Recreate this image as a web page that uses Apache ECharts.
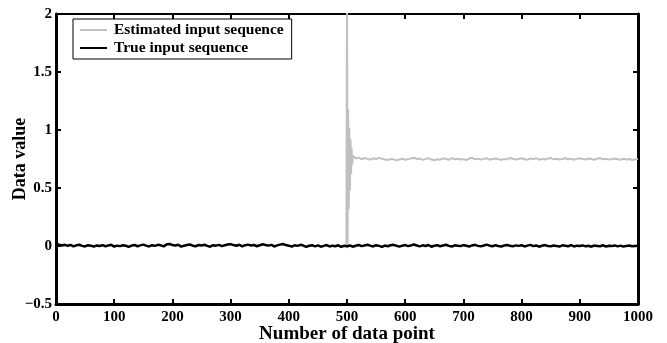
<!DOCTYPE html>
<html>
<head>
<meta charset="utf-8">
<script src="https://cdn.jsdelivr.net/npm/echarts@6/dist/echarts.min.js"></script>
<style>
  html, body { margin: 0; padding: 0; background: #fff; }
  #chart { width: 667px; height: 343px; }
</style>
</head>
<body>
<div id="chart"></div>
<script>
// true input, sampled every 5 points from 0 to 1000
var trueStep = 5;
var trueValues = [
  0.008, 0.012, 0.004, 0.010, 0.002, 0.009, -0.003, 0.006, 0.011, 0.001,
  -0.004, 0.007, 0.003, -0.006, 0.005, 0.000, 0.008, -0.002, 0.004, 0.010,
  -0.005, 0.003, -0.001, 0.006, 0.002, -0.007, 0.004, 0.009, -0.002, 0.005,
  0.012, 0.003, -0.004, 0.007, 0.001, 0.010, 0.006, -0.003, 0.014, 0.018,
  0.009, 0.004, 0.011, -0.005, 0.002, 0.008, 0.013, 0.003, -0.002, 0.009,
  0.005, 0.011, 0.001, -0.006, 0.007, 0.003, 0.010, -0.001, 0.006, 0.013,
  0.016, 0.008, 0.002, 0.011, -0.003, 0.007, 0.012, 0.004, 0.009, -0.002,
  0.006, 0.015, 0.009, 0.003, 0.010, -0.004, 0.005, 0.012, 0.017, 0.008,
  0.003, -0.005, 0.006, 0.001, 0.010, 0.004, -0.008, 0.002, 0.007, -0.003,
  0.005, -0.006, 0.001, 0.008, -0.004, 0.003, -0.002, 0.006, -0.007, 0.002,
  -0.003, 0.004, -0.006, 0.002, 0.009, -0.001, 0.005, 0.011, 0.003, -0.004,
  0.007, 0.001, -0.008, 0.004, -0.002, 0.006, 0.010, 0.002, -0.005, 0.003,
  0.008, -0.001, 0.005, 0.013, 0.004, -0.003, 0.006, 0.000, 0.009, -0.006,
  0.002, 0.007, -0.002, 0.004, 0.011, 0.001, -0.005, 0.006, 0.003, -0.001,
  0.008, 0.002, -0.004, 0.005, 0.010, 0.001, -0.003, 0.004, 0.012, 0.003,
  -0.002, 0.006, 0.000, -0.005, 0.004, 0.009, 0.002, -0.003, 0.005, 0.001,
  0.007, -0.004, 0.003, 0.010, -0.001, 0.005, -0.006, 0.002, 0.008, 0.000,
  -0.003, 0.004, 0.001, -0.005, 0.006, 0.002, -0.002, 0.007, -0.004, 0.003,
  0.000, 0.005, -0.003, 0.002, -0.006, 0.004, 0.001, -0.002, 0.006, -0.004,
  0.002, -0.001, 0.005, -0.003, 0.003, -0.005, 0.001, 0.004, -0.002, 0.000,
  0.002
];

// estimated input: transient around point 500
var estHeadX = [499, 500, 501, 502, 503, 504, 505, 506, 507, 508, 509, 510];
var estHeadY = [0.0, 2.3, -0.02, 1.18, 0.32, 1.02, 0.48, 0.92, 0.62, 0.84, 0.70, 0.78];

// estimated input after settling, every 5 points from 515 to 1000
var estTailStart = 515;
var estTailStep = 5;
var estTailY = [
  0.755, 0.762, 0.748, 0.758, 0.751, 0.744, 0.756, 0.749, 0.760, 0.752,
  0.745, 0.741, 0.750, 0.747, 0.738, 0.746, 0.752, 0.743, 0.749, 0.755,
  0.761, 0.748, 0.754, 0.742, 0.751, 0.757, 0.746, 0.739, 0.748, 0.744,
  0.756, 0.750, 0.743, 0.758, 0.747, 0.752, 0.745, 0.749, 0.741, 0.754,
  0.760, 0.748, 0.753, 0.746, 0.751, 0.757, 0.744, 0.750, 0.755, 0.749,
  0.742, 0.751, 0.746, 0.758, 0.752, 0.745, 0.750, 0.756, 0.748, 0.743,
  0.754, 0.749, 0.757, 0.744, 0.751, 0.746, 0.753, 0.759, 0.747, 0.752,
  0.745, 0.750, 0.756, 0.748, 0.753, 0.744, 0.751, 0.757, 0.749, 0.746,
  0.754, 0.750, 0.743, 0.752, 0.758, 0.747, 0.751, 0.745, 0.749, 0.755,
  0.748, 0.744, 0.752, 0.746, 0.750, 0.741, 0.747, 0.749
];

var seriesNames = ['Estimated input sequence', 'True input sequence'];

var trueData = trueValues.map(function (v, i) { return [i * trueStep, v]; });
var estData = estHeadX.map(function (x, i) { return [x, estHeadY[i]]; })
  .concat(estTailY.map(function (v, i) { return [estTailStart + i * estTailStep, v]; }));

var font = 'Liberation Serif';
var labelStyle = { color: '#000', fontFamily: font, fontWeight: 'bold', fontSize: 15 };
function plain(v) { return String(v).replace('-', '\u2212'); }

var chart = echarts.init(document.getElementById('chart'));
chart.setOption({
  animation: false,
  backgroundColor: '#fff',
  grid: { left: 56, right: 29, top: 14, bottom: 39, outerBoundsMode: 'none', containLabel: false },
  legend: {
    data: seriesNames.map(function (n) { return { name: n, icon: 'rect' }; }),
    orient: 'vertical',
    left: 73,
    top: 19,
    itemGap: 2,
    itemWidth: 27,
    itemHeight: 2,
    padding: [3, 8, 3, 7],
    borderColor: '#000',
    borderWidth: 1,
    backgroundColor: '#fff',
    textStyle: { color: '#000', fontFamily: font, fontWeight: 'bold', fontSize: 15.5, padding: [0, 0, 0, 2] }
  },
  xAxis: [
    {
      type: 'value', min: 0, max: 1000, interval: 100, position: 'bottom',
      name: 'Number of data point', nameLocation: 'middle', nameGap: 21, nameMoveOverlap: false,
      nameTextStyle: { color: '#000', fontFamily: font, fontWeight: 'bold', fontSize: 19 },
      axisLine: { onZero: false, lineStyle: { color: '#000', width: 3 } },
      axisTick: { inside: true, length: 5, lineStyle: { color: '#000', width: 2 } },
      axisLabel: Object.assign({ margin: 6, formatter: plain }, labelStyle),
      splitLine: { show: false }
    },
    {
      type: 'value', min: 0, max: 1000, interval: 100, position: 'top',
      axisLine: { onZero: false, lineStyle: { color: '#000', width: 2 } },
      axisTick: { inside: true, length: 5, lineStyle: { color: '#000', width: 2 } },
      axisLabel: { show: false },
      splitLine: { show: false }
    }
  ],
  yAxis: [
    {
      type: 'value', min: -0.5, max: 2, interval: 0.5, position: 'left',
      name: 'Data value', nameLocation: 'middle', nameGap: 27, nameMoveOverlap: false,
      nameTextStyle: { color: '#000', fontFamily: font, fontWeight: 'bold', fontSize: 18 },
      axisLine: { onZero: false, lineStyle: { color: '#000', width: 3 } },
      axisTick: { inside: true, length: 5, lineStyle: { color: '#000', width: 2 } },
      axisLabel: Object.assign({ margin: 4, formatter: plain }, labelStyle),
      splitLine: { show: false }
    },
    {
      type: 'value', min: -0.5, max: 2, interval: 0.5, position: 'right',
      axisLine: { onZero: false, lineStyle: { color: '#000', width: 3 } },
      axisTick: { inside: true, length: 5, lineStyle: { color: '#000', width: 2 } },
      axisLabel: { show: false },
      splitLine: { show: false }
    }
  ],
  series: [
    {
      name: seriesNames[0], type: 'line', data: estData, showSymbol: false, clip: true,
      lineStyle: { color: '#c0c0c0', width: 2 }, itemStyle: { color: '#c0c0c0' }
    },
    {
      name: seriesNames[1], type: 'line', data: trueData, showSymbol: false, clip: true,
      lineStyle: { color: '#000', width: 2.5 }, itemStyle: { color: '#000' }
    }
  ]
});
</script>
</body>
</html>
